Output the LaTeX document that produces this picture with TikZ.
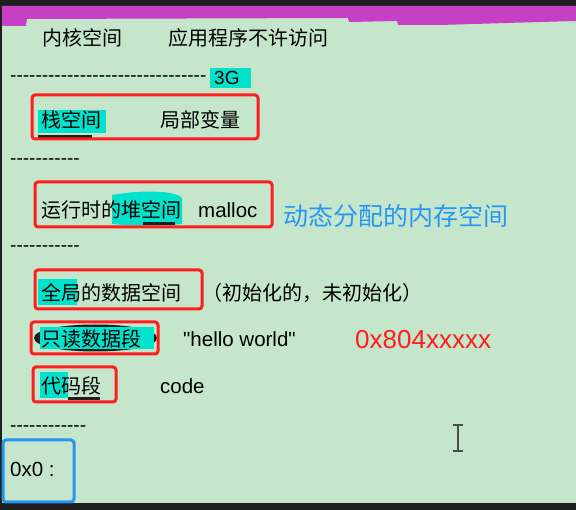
\documentclass[tikz,border=0pt]{standalone}
\usepackage{fontspec}
\setmainfont{Liberation Sans}
\newfontfamily\latin{Liberation Sans}
\newfontfamily\cjk{Noto Sans CJK SC}
\usetikzlibrary{positioning}
\definecolor{bgdark}{RGB}{30,30,30}
\definecolor{boardgreen}{RGB}{197,230,202}
\definecolor{stripe}{RGB}{198,64,198}
\definecolor{marker}{RGB}{0,226,204}
\definecolor{boxred}{RGB}{255,30,30}
\definecolor{noteblue}{RGB}{38,150,245}
\newcommand{\dashrow}[1]{\foreach \i in {1,...,#1}{-}}

\begin{document}
\begin{tikzpicture}[x=1pt,y=-1pt,
  every node/.style={inner sep=0pt,anchor=west},
  cn/.style={font=\cjk\fontsize{20}{20}\selectfont},
  lat/.style={font=\latin\fontsize{20.5}{20}\selectfont},
  dashes/.style={font=\latin\fontsize{19}{19}\selectfont},
  redbox/.style={draw=boxred,line width=3pt,rounded corners=3pt},
  hl/.style={fill=marker}]
% board
\fill[bgdark] (0,0) rectangle (576,510);
\fill[boardgreen] (2,6) rectangle (576,503);
\fill[stripe] (2,6) -- (576,6) -- (576,21) -- (540,22) -- (440,25) -- (398,25)
  -- (397,21) -- (349,22) -- (348,18) -- (27,19) -- (26,26) -- (2,26) -- cycle;
% highlights
\fill[hl] (210,68) rectangle (251,88);
\fill[hl] (38,110) rectangle (106,133);
\fill[bgdark] (38,135) rectangle (92,138);
\fill[hl] (112,195) .. controls (140,190) and (175,190) .. (182,198) -- (182,224)
  .. controls (160,226) and (130,226) .. (112,224) -- cycle;
\fill[bgdark] (143,222) rectangle (175,225);
\fill[hl] (38,279) rectangle (77,305);
\fill[bgdark] (34,338) .. controls (34,320) and (157,320) .. (157,338)
  .. controls (157,356) and (34,356) .. (34,338) -- cycle;
\fill[hl] (40,327) rectangle (154,349);
\fill[hl] (40,372) rectangle (68,398);
\fill[bgdark] (68,397) rectangle (100,400);
% texts
\node[cn] (kernel) at (42,38) {内核空间};
\node[cn] (noaccess) at (168,38) {应用程序不许访问};
\node[dashes] (dash1) at (10,79) {\dashrow{31}};
\node[font=\latin\fontsize{19}{19}\selectfont] (gig) at (214,78) {3G};
\node[cn] (stack) at (41,120) {栈空间};
\node[cn] (local) at (160,120) {局部变量};
\node[dashes] (dash2) at (10,162) {\dashrow{11}};
\node[cn] (heap) at (41,210) {运行时的堆空间};
\node[lat] (malloc) at (198,210) {malloc};
\node[font=\cjk\fontsize{25}{25}\selectfont,text=noteblue] (dyn) at (283,216) {动态分配的内存空间};
\node[dashes] (dash3) at (10,249) {\dashrow{11}};
\node[cn] (global) at (41,293) {全局的数据空间};
\node[cn] (init) at (202,293) {（初始化的，未初始化）};
\node[cn] (rodata) at (41,339) {只读数据段};
\node[lat] (hello) at (183,339) {"hello world"};
\node[font=\latin\fontsize{26}{26}\selectfont,text=boxred] (addr) at (355,340) {0x804xxxxx};
\node[cn] (text) at (41,386) {代码段};
\node[lat] (code) at (160,386) {code};
\node[dashes] (dash4) at (10,429) {\dashrow{12}};
\node[lat] (zero) at (10,469) {0x0 :};
% boxes
\draw[redbox] (32,95) rectangle (258,139);
\draw[redbox] (35,182) rectangle (272,227);
\draw[redbox] (35,270) rectangle (202,309);
\draw[redbox] (31,322) rectangle (158,354);
\draw[redbox] (33,367) rectangle (116,402);
\draw[draw=noteblue,line width=3pt,rounded corners=3pt] (3,440) rectangle (74,502);
% cursor
\draw[bgdark!80,line width=1.5pt] (458,426) -- (458,450);
\draw[bgdark!80,line width=1.2pt] (453,425) -- (463,425) (453,451) -- (463,451);
\end{tikzpicture}
\end{document}
